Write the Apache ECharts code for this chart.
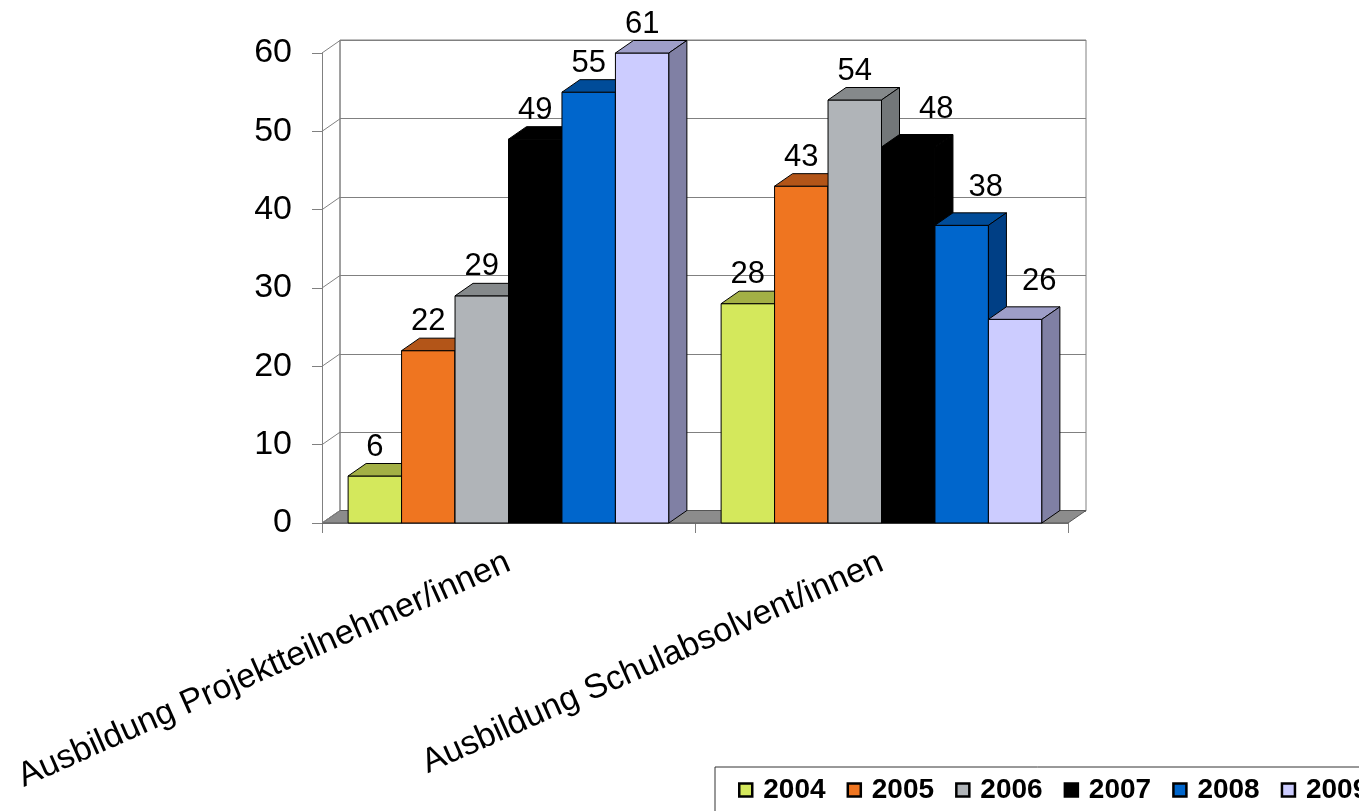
<!DOCTYPE html>
<html lang="de">
<head>
<meta charset="UTF-8">
<title>Ausbildung 2004 - 2009</title>
<script src="https://cdn.jsdelivr.net/npm/echarts@6/dist/echarts.min.js"></script>
<style>
    html, body { margin: 0; padding: 0; background: #fff; }
    #chart { width: 1359px; height: 811px; }
</style>
</head>
<body>
<div id="chart"></div>
<script>
// Daten
var categories = ['Ausbildung Projektteilnehmer/innen', 'Ausbildung Schulabsolvent/innen'];
var years = ['2004', '2005', '2006', '2007', '2008', '2009'];
var v2004 = [6, 28];
var v2005 = [22, 43];
var v2006 = [29, 54];
var v2007 = [49, 48];
var v2008 = [55, 38];
var v2009 = [61, 26];
var yearValues = [v2004, v2005, v2006, v2007, v2008, v2009];
var yTicks = [0, 10, 20, 30, 40, 50, 60];
var Y_MAX = 60;

// Farben: Vorderseite, Deckel, Seite
var frontColors = ['#d4e85c', '#ef7520', '#b0b4b8', '#000000', '#0066cc', '#ccccff'];
var topColors   = ['#a3b045', '#b35518', '#85898b', '#000000', '#004c99', '#9e9ec8'];
var sideColors  = ['#8e9a3c', '#9c4a15', '#737779', '#000000', '#003f85', '#8080a4'];

// 3D-Tiefe in Pixel
var DX = 18, DY = -12.5;
var FONT = '"Liberation Sans", Arial, sans-serif';
// verschobene Beschriftungen (wie im Original), je Jahr und Kategorie: [dx, dy]
var labelShift = [
    [[0, 0], [0, 0]], [[0, 0], [0, 0]], [[0, 0], [0, 0]],
    [[0, 0], [28, -9]], [[0, 0], [24, -9]], [[0, 0], [24, -9]]
];

function barRenderer(k) {
    return function (params, api) {
        var cat = api.value(0), v = api.value(1);
        var band = api.size([1, 0])[0];
        var bw = band * 0.86 / years.length;
        var c = api.coord([cat, Math.min(v, Y_MAX)]);
        var base = api.coord([cat, 0]);
        var x0 = c[0] - bw * years.length / 2 + k * bw, x1 = x0 + bw;
        var yt = c[1], yb = base[1];
        var edge = { stroke: '#000', lineWidth: 1, lineJoin: 'round' };
        var sh = labelShift[k][cat];
        return {
            type: 'group',
            children: [
                { type: 'polygon', shape: { points: [[x0, yt], [x1, yt], [x1, yb], [x0, yb]] },
                  style: Object.assign({ fill: frontColors[k] }, edge) },
                { type: 'polygon', shape: { points: [[x0, yt], [x0 + DX, yt + DY], [x1 + DX, yt + DY], [x1, yt]] },
                  style: Object.assign({ fill: topColors[k] }, edge) },
                { type: 'polygon', shape: { points: [[x1, yt], [x1 + DX, yt + DY], [x1 + DX, yb + DY], [x1, yb]] },
                  style: Object.assign({ fill: sideColors[k] }, edge) },
                { type: 'text', x: (x0 + x1) / 2 + sh[0], y: yt + DY - 1 + sh[1], z2: 100,
                  style: { text: String(v), textAlign: 'center', textVerticalAlign: 'bottom',
                           font: '31px ' + FONT, fill: '#000' } }
            ]
        };
    };
}

var series = [];

// Boden
series.push({
    type: 'custom', name: 'floor', xAxisIndex: 0, yAxisIndex: 0, silent: true,
    data: [[0, 0]],
    renderItem: function (params, api) {
        var cs = params.coordSys;
        var yb = cs.y + cs.height;
        return {
            type: 'polygon',
            shape: { points: [[cs.x, yb], [cs.x + cs.width, yb], [cs.x + cs.width + DX, yb + DY], [cs.x + DX, yb + DY]] },
            style: { fill: '#8c8c8c', stroke: '#555', lineWidth: 1 }
        };
    }
});

// Seitenwand: Diagonalen von der vorderen Achse zur Rückwand
series.push({
    type: 'custom', name: 'wall', xAxisIndex: 0, yAxisIndex: 0, silent: true,
    data: yTicks.map(function (t) { return [0, t]; }),
    renderItem: function (params, api) {
        var cs = params.coordSys;
        var y = api.coord([0, api.value(1)])[1];
        var children = [{
            type: 'line', shape: { x1: cs.x, y1: y, x2: cs.x + DX, y2: y + DY },
            style: { stroke: '#808080', lineWidth: 1 }
        }];
        if (params.dataIndex === 0) {
            children.push({
                type: 'line', shape: { x1: cs.x + DX, y1: cs.y + DY, x2: cs.x + DX, y2: cs.y + cs.height + DY },
                style: { stroke: '#808080', lineWidth: 1 }
            });
        }
        return { type: 'group', children: children };
    }
});

years.forEach(function (y, k) {
    series.push({
        type: 'custom', name: y, xAxisIndex: 0, yAxisIndex: 0,
        itemStyle: { color: frontColors[k], borderColor: '#000', borderWidth: 2 },
        data: yearValues[k].map(function (v, i) { return [i, v]; }),
        renderItem: barRenderer(k)
    });
});

var chart = echarts.init(document.getElementById('chart'));
chart.setOption({
    animation: false,
    color: frontColors,
    grid: [
        { left: 322, right: 291, top: 53, bottom: 288 },
        { left: 340, right: 273, top: 40, bottom: 300, show: true, borderColor: '#808080', borderWidth: 1 }
    ],
    xAxis: [
        { type: 'category', gridIndex: 0, data: categories,
          axisLine: { show: true, lineStyle: { color: '#808080' } },
          axisTick: { show: true, length: 10, lineStyle: { color: '#808080' } },
          axisLabel: { interval: 0, rotate: 24, margin: 38, fontSize: 34, fontFamily: FONT, color: '#000' } },
        { type: 'value', gridIndex: 1, min: 0, max: 1, show: false }
    ],
    yAxis: [
        { type: 'value', gridIndex: 0, min: 0, max: Y_MAX, interval: 10,
          axisLine: { show: true, lineStyle: { color: '#808080' } },
          axisTick: { show: true, length: 10, lineStyle: { color: '#808080' } },
          splitLine: { show: false },
          axisLabel: { margin: 30, fontSize: 34, fontFamily: FONT, color: '#000' } },
        { type: 'value', gridIndex: 1, min: 0, max: Y_MAX, interval: 10,
          axisLine: { show: false }, axisTick: { show: false }, axisLabel: { show: false },
          splitLine: { show: true, lineStyle: { color: '#808080', width: 1 } } }
    ],
    legend: {
        data: years.map(function (y, k) {
            return { name: y, itemStyle: { color: frontColors[k], borderColor: '#000', borderWidth: 2.5 } };
        }),
        left: 715, top: 767, width: 720,
        backgroundColor: '#fff', borderColor: '#333', borderWidth: 1,
        padding: [9, 10, 10, 23],
        icon: 'rect', itemWidth: 13, itemHeight: 13, itemGap: 21,
        textStyle: { fontFamily: FONT, fontWeight: 'bold', fontSize: 28, color: '#000', padding: [0, 0, 0, 6] }
    },
    series: series
});
</script>
</body>
</html>
